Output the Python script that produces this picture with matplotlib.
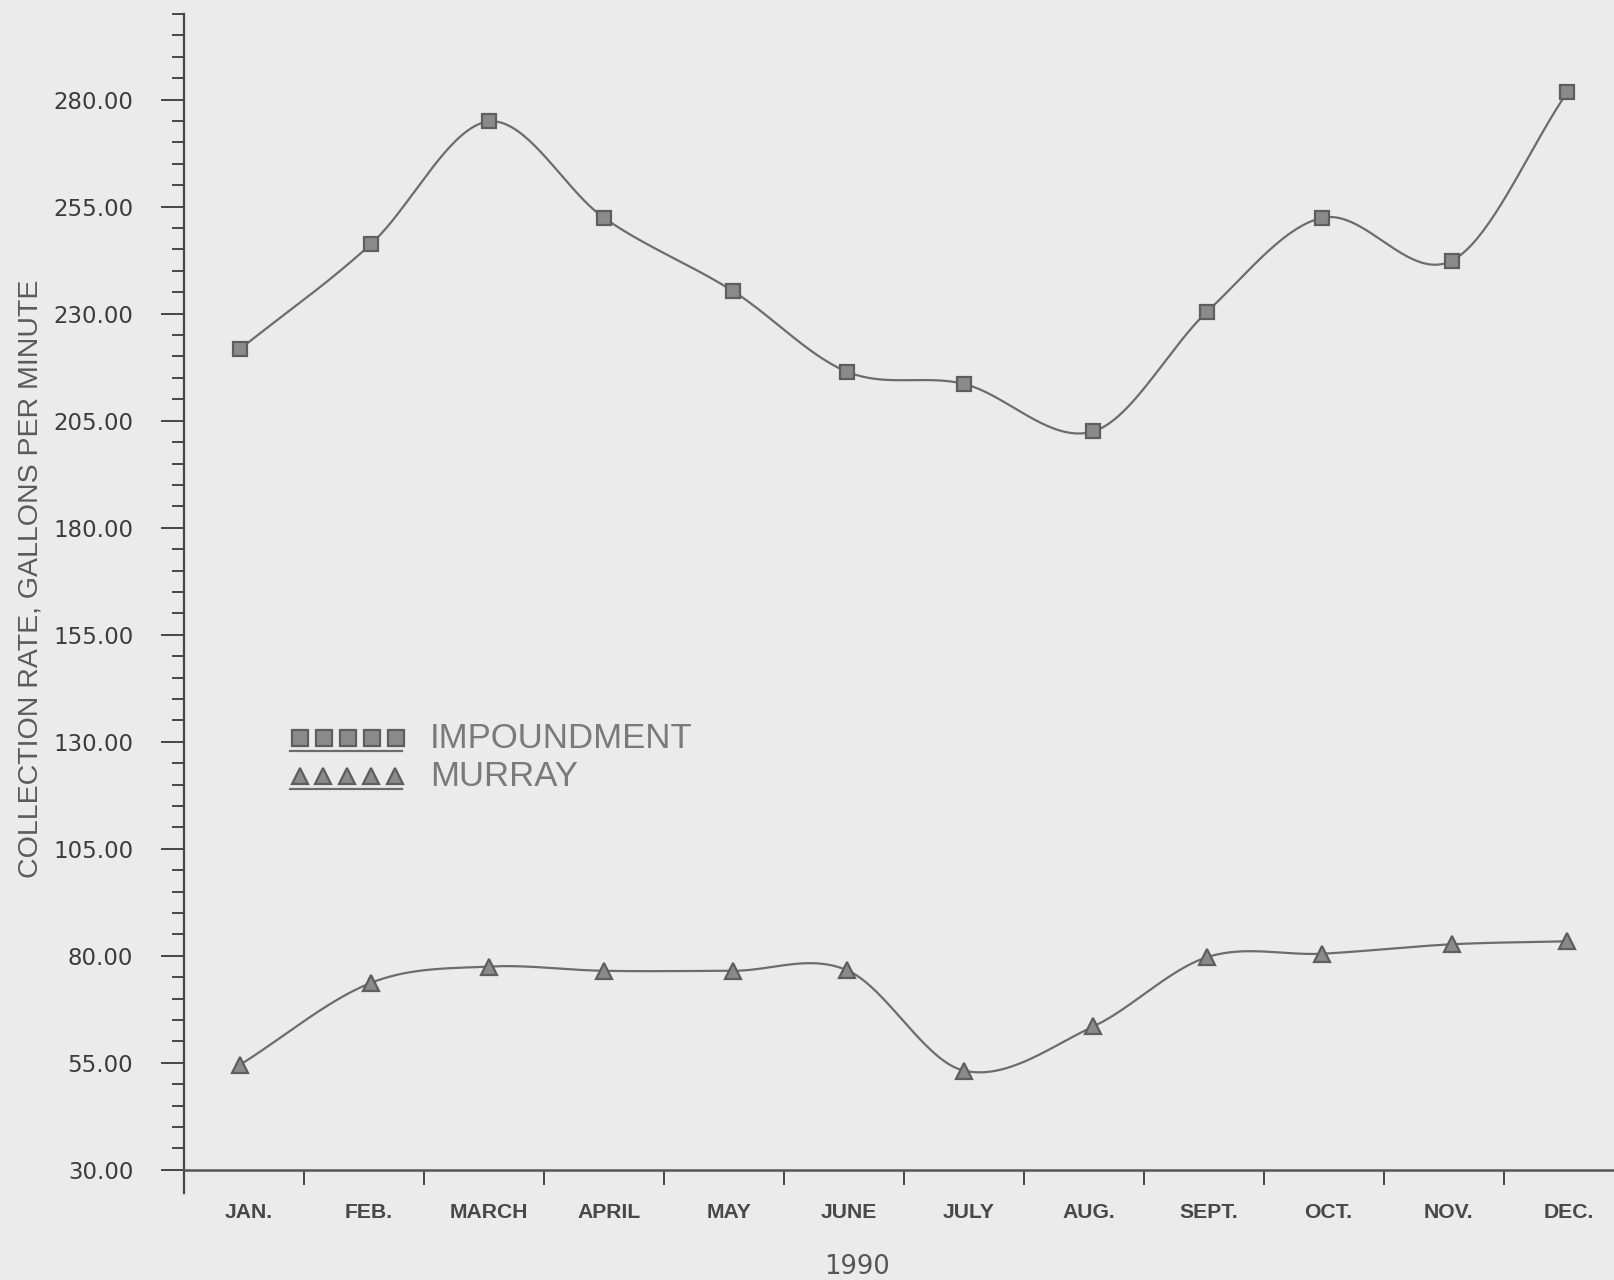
import numpy as np
import matplotlib
matplotlib.use("Agg")
import matplotlib.pyplot as plt

# ---- data -------------------------------------------------------------
months = ["JAN.", "FEB.", "MARCH", "APRIL", "MAY", "JUNE",
          "JULY", "AUG.", "SEPT.", "OCT.", "NOV.", "DEC."]
# sampling position, in months counted from January 1
sample_pos = [0.47, 1.56, 2.54, 3.50, 4.58, 5.53,
              6.50, 7.58, 8.53, 9.49, 10.57, 11.53]
impoundment = [221.8, 246.3, 274.9, 252.4, 235.2, 216.4,
               213.6, 202.5, 230.5, 252.4, 242.4, 281.7]
murray = [54.6, 73.7, 77.5, 76.5, 76.5, 76.6,
          53.2, 63.5, 79.7, 80.5, 82.7, 83.4]
y_major = [30, 55, 80, 105, 130, 155, 180, 205, 230, 255, 280]
y_label = "COLLECTION RATE, GALLONS PER MINUTE"
x_label = "1990"
series_names = ["IMPOUNDMENT", "MURRAY"]

# ---- style ------------------------------------------------------------
BG = "#ebebeb"
INK = "#464646"
CURVE = "#6c6c6c"
W, H = 1614, 1280


def smooth(xs, ys, n=40):
    """Cardinal (Catmull-Rom) cubic through the given points."""
    xs = np.asarray(xs, float)
    ys = np.asarray(ys, float)
    m = np.zeros_like(ys)
    m[1:-1] = (ys[2:] - ys[:-2]) / (xs[2:] - xs[:-2])
    m[0] = (ys[1] - ys[0]) / (xs[1] - xs[0])
    m[-1] = (ys[-1] - ys[-2]) / (xs[-1] - xs[-2])
    outx, outy = [], []
    for i in range(len(xs) - 1):
        h = xs[i + 1] - xs[i]
        t = np.linspace(0, 1, n, endpoint=False)
        h00 = 2 * t**3 - 3 * t**2 + 1
        h10 = t**3 - 2 * t**2 + t
        h01 = -2 * t**3 + 3 * t**2
        h11 = t**3 - t**2
        outx.append(xs[i] + t * h)
        outy.append(h00 * ys[i] + h10 * h * m[i] + h01 * ys[i + 1] + h11 * h * m[i + 1])
    outx.append([xs[-1]])
    outy.append([ys[-1]])
    return np.concatenate(outx), np.concatenate(outy)


fig = plt.figure(figsize=(W / 100, H / 100), dpi=100, facecolor=BG)

left = 184 / W
bottom = 1 - 1193 / H
top = 1 - 14 / H
ax = fig.add_axes([left, bottom, 1.0 - left, top - bottom])
ax.set_facecolor(BG)
ax.set_xlim(0, 11.92)
ax.set_ylim(24.6, 300)

# curves and markers
for vals, mk, ms in [(impoundment, "s", 10.5), (murray, "^", 11.5)]:
    cx, cy = smooth(sample_pos, vals)
    ax.plot(cx, cy, color=CURVE, lw=1.6, zorder=2)
    ax.plot(sample_pos, vals, ls="none", marker=mk, ms=ms,
            mfc="#8a8a8a", mec="#5e5e5e", mew=1.6, zorder=3)

# axes frame
for s in ("top", "right"):
    ax.spines[s].set_visible(False)
ax.spines["bottom"].set_position(("data", 30))
ax.spines["left"].set_color(INK)
ax.spines["bottom"].set_color("#555555")
ax.spines["left"].set_linewidth(1.6)
ax.spines["bottom"].set_linewidth(1.8)

# y ticks
ax.set_yticks(y_major)
ax.set_yticklabels([f"{v:.2f}" for v in y_major])
ax.set_yticks(np.arange(30, 301, 5), minor=True)
ax.tick_params(axis="y", which="major", direction="out", length=16.5,
               width=1.4, color=INK, pad=20, labelsize=16.5,
               labelcolor="#3c3c3c")
ax.tick_params(axis="y", which="minor", direction="out", length=8.5,
               width=1.4, color=INK)

# x ticks: boundaries as major ticks, month names centred as minor labels
ax.set_xticks(np.arange(1, 12))
ax.set_xticklabels([])
ax.set_xticks(np.arange(len(months)) + 0.54, minor=True)
ax.set_xticklabels(months, minor=True, fontfamily="Liberation Sans",
                   fontweight="bold")
ax.tick_params(axis="x", which="major", direction="out", length=10.5,
               width=1.4, color=INK)
ax.tick_params(axis="x", which="minor", length=0, pad=24,
               labelsize=15.2, labelcolor="#484848")

# overlay in pixel coordinates for titles and legend
ov = fig.add_axes([0, 0, 1, 1])
ov.set_xlim(0, W)
ov.set_ylim(H, 0)
ov.axis("off")
ov.patch.set_alpha(0)

ov.text(31, 579, y_label, rotation=90, ha="center", va="center",
        fontsize=20.5, family="Liberation Sans", color="#5a5a5a")
ov.text(857, 1267, x_label, ha="center", va="center",
        fontsize=18.5, color="#555555")

legend_rows = [("s", 11, 738, [300, 324, 348, 372, 396]),
               ("^", 11.5, 776, [300, 323, 347, 371, 395])]
for name, (mk, ms, yc, xs) in zip(series_names, legend_rows):
    ov.plot(xs, [yc] * len(xs), ls="none", marker=mk, ms=ms,
            mfc="#8a8a8a", mec="#5e5e5e", mew=1.6)
    ov.plot([290, 402], [yc + 13, yc + 13], color=CURVE, lw=1.6)
    ov.text(430, yc + 1, name, ha="left", va="center", fontsize=25,
            family="Liberation Sans", color="#7a7a7a")

fig.savefig("out.png", dpi=100, facecolor=BG)
